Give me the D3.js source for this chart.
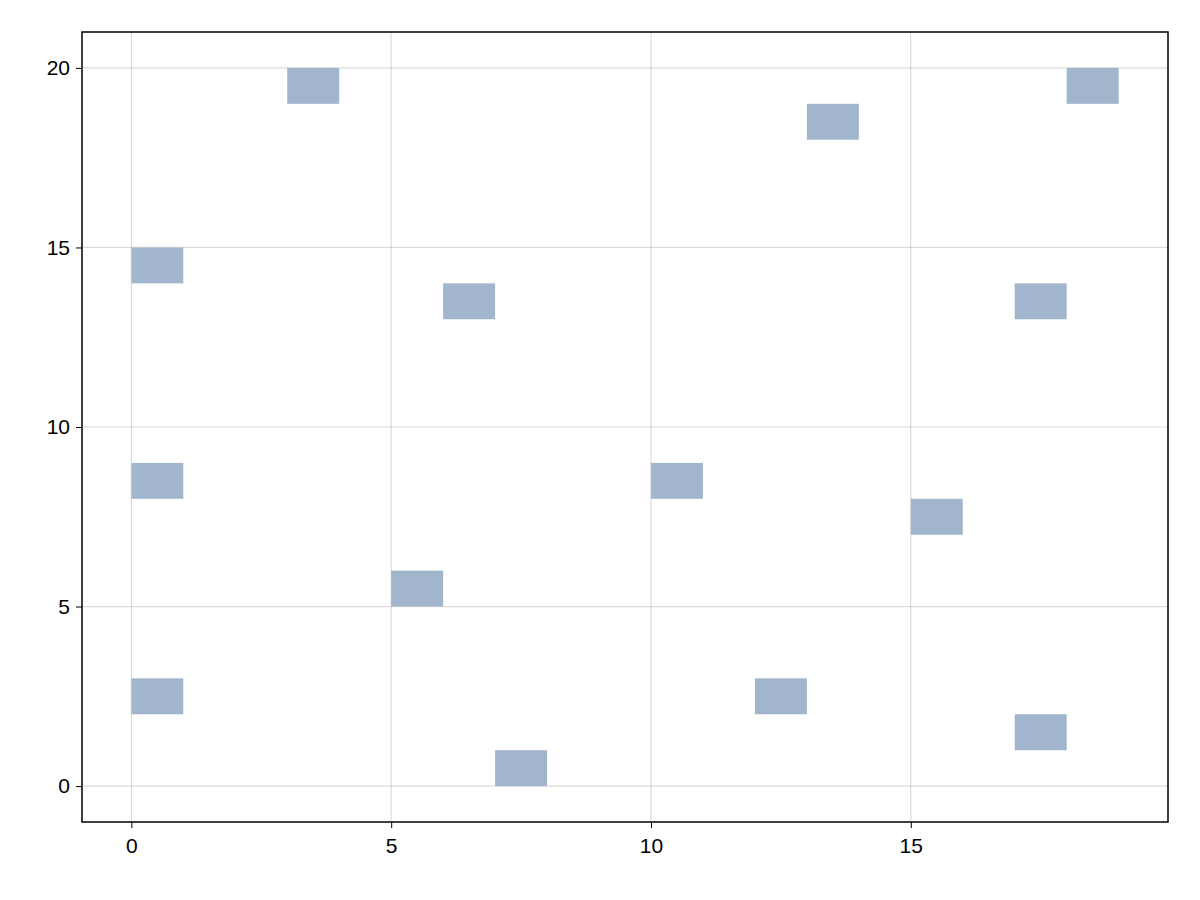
<!DOCTYPE html>
<html><head><meta charset="utf-8">
<script src="https://cdn.jsdelivr.net/npm/d3@7"></script>
<style>body{margin:0;background:#fff}text{font-family:"Liberation Sans",sans-serif}</style>
</head><body><svg id="c" width="1200" height="900"></svg>
<script>
const cellX = [0,0,0,3,5,6,7,10,12,13,15,17,17,18];
const cellY = [2,8,14,19,5,13,0,8,2,18,7,1,13,19];
const xTicks = [0,5,10,15];
const yTicks = [0,5,10,15,20];
const svg = d3.select("#c");
const L=82,R=1168,T=32,B=822;
const x = d3.scaleLinear().domain([-0.95,19.95]).range([L,R]);
const y = d3.scaleLinear().domain([-1,21]).range([B,T]);
const g = svg.append("g");
g.selectAll(".gx").data(xTicks).join("line").attr("x1",d=>x(d)).attr("x2",d=>x(d)).attr("y1",T).attr("y2",B).attr("stroke","rgba(0,0,0,0.14)").attr("stroke-width",1.2);
g.selectAll(".gy").data(yTicks).join("line").attr("y1",d=>y(d)).attr("y2",d=>y(d)).attr("x1",L).attr("x2",R).attr("stroke","rgba(0,0,0,0.14)").attr("stroke-width",1.2);
g.selectAll("rect.c").data(cellX.map((v,i)=>[v,cellY[i]])).join("rect")
 .attr("x",d=>x(d[0])).attr("y",d=>y(d[1]+1)).attr("width",d=>x(d[0]+1)-x(d[0])).attr("height",d=>y(d[1])-y(d[1]+1)).attr("fill","#a1b5cc");
svg.append("rect").attr("x",L).attr("y",T).attr("width",R-L).attr("height",B-T).attr("fill","none").attr("stroke","#000").attr("stroke-width",1.5);
const xa = svg.append("g").attr("transform",`translate(0,${B})`).call(d3.axisBottom(x).tickValues(xTicks).tickSize(6).tickPadding(6));
const ya = svg.append("g").attr("transform",`translate(${L},0)`).call(d3.axisLeft(y).tickValues(yTicks).tickSize(6).tickPadding(6));
[xa,ya].forEach(a=>{a.select(".domain").remove();a.selectAll("text").attr("font-size",21).attr("font-family","'Liberation Sans',sans-serif").attr("fill","#000");a.selectAll("line").attr("stroke","#000");});
xa.selectAll("text").attr("dy","0.9em");
</script></body></html>
